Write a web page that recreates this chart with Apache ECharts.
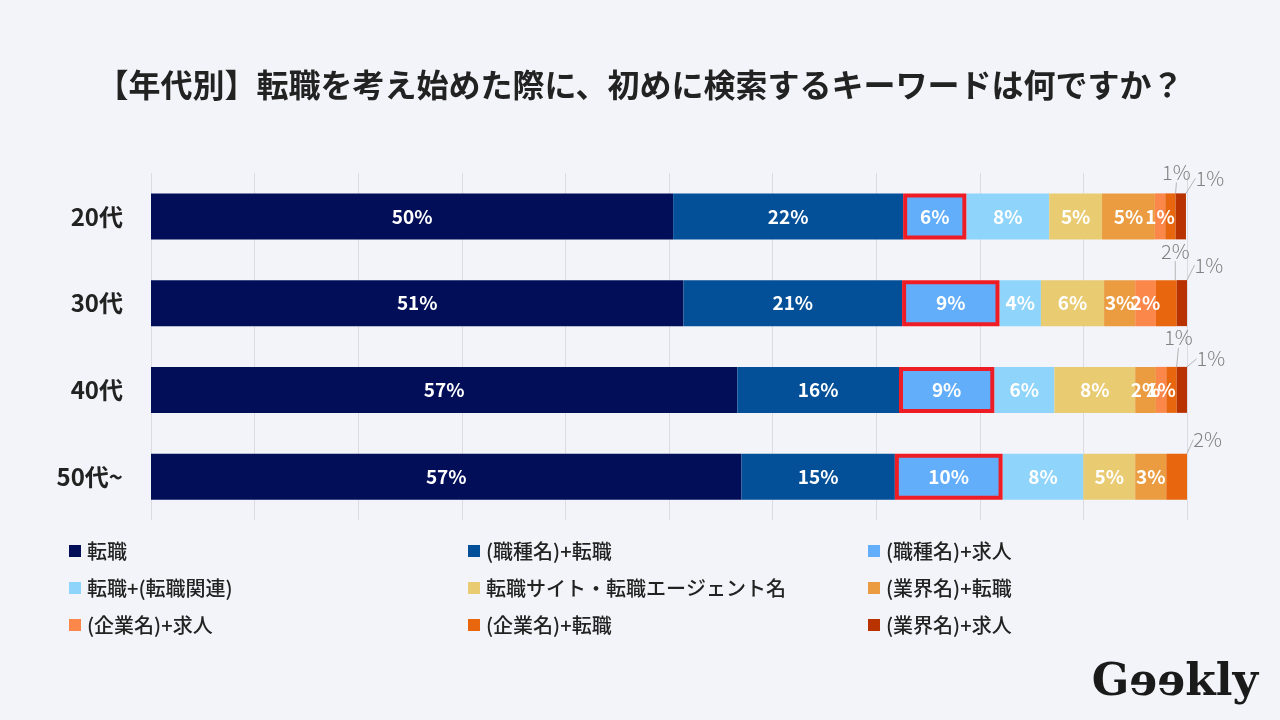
<!DOCTYPE html>
<html>
<head>
<meta charset="utf-8">
<script src="https://cdn.jsdelivr.net/npm/echarts@6/dist/echarts.min.js"></script>
<style>
html,body{margin:0;padding:0;background:#f3f4f9;}
#c{width:1280px;height:720px;}
</style>
</head>
<body>
<div id="c"></div>
<script>
const categories = ['20代', '30代', '40代', '50代~'];
const seriesNames = ['転職', '(職種名)+転職', '(職種名)+求人', '転職+(転職関連)', '転職サイト・転職エージェント名', '(業界名)+転職', '(企業名)+求人', '(企業名)+転職', '(業界名)+求人'];
const tenshoku          = [50.4, 51.4, 56.6, 57.0];
const shokushuTenshoku  = [22.2, 21.1, 15.6, 14.8];
const shokushuKyujin    = [6.1, 9.4, 9.2, 10.4];
const tenshokuKanren    = [8.0, 4.0, 5.8, 7.8];
const siteAgent         = [5.1, 6.1, 7.8, 5.0];
const gyokaiTenshoku    = [5.1, 3.0, 2.0, 3.0];
const kigyoKyujin       = [1.0, 2.0, 1.0, 0];
const kigyoTenshoku     = [1.0, 2.0, 1.0, 2.0];
const gyokaiKyujin      = [1.0, 1.0, 1.0, 0];
const seriesValues = [tenshoku, shokushuTenshoku, shokushuKyujin, tenshokuKanren, siteAgent, gyokaiTenshoku, kigyoKyujin, kigyoTenshoku, gyokaiKyujin];
const colors = ['#020f58', '#034f98', '#63aefa', '#8fd4fa', '#e9cb72', '#eb9b40', '#fc874a', '#e8660d', '#b83300'];

const FONT = '"Noto Sans CJK JP", "Noto Sans", sans-serif';
// outside label offsets (relative to segment center) for the last two series
const outsideOffset = {
  7: [[6, -44], [9, -52], [7, -52], [31, -37]],
  8: [[29, -38], [27, -38], [29, -31], [0, 0]]
};

const chart = echarts.init(document.getElementById('c'));

const series = seriesNames.map((name, i) => {
  const outside = i >= 7;
  const s = {
    name: name,
    type: 'bar',
    stack: 'total',
    barWidth: 46,
    data: seriesValues[i],
    itemStyle: { color: colors[i] },
    label: {
      show: true,
      position: 'inside',
      formatter: p => p.value > 0 ? Math.round(p.value) + '%' : '',
      color: outside ? '#808080' : '#ffffff',
      fontSize: outside ? 20 : 19,
      fontWeight: outside ? 300 : 'bold',
      fontFamily: FONT
    },
    emphasis: { disabled: true }
  };
  if (i === 2) {
    s.itemStyle = { color: colors[i], borderColor: '#ee1c25', borderWidth: 4 };
    s.z = 3;
  }
  if (outside) {
    s.labelLine = { show: true, length2: 0, lineStyle: { color: '#b5b5b5', width: 1 } };
    s.labelLayout = function (params) {
      const off = outsideOffset[params.seriesIndex][params.dataIndex];
      const r = params.rect;
      return {
        x: r.x + r.width / 2 + off[0],
        y: r.y + r.height / 2 + off[1],
        align: 'center',
        verticalAlign: 'middle'
      };
    };
  }
  return s;
});

function legendCol(left, names) {
  return {
    orient: 'vertical',
    left: left,
    top: 541,
    padding: 0,
    itemWidth: 12,
    itemHeight: 12,
    itemGap: 17,
    icon: 'rect',
    selectedMode: false,
    itemStyle: { borderWidth: 0 },
    data: names,
    textStyle: { color: '#222222', fontSize: 20, fontWeight: 500, lineHeight: 20, fontFamily: FONT, padding: [0, 0, 0, 1] }
  };
}

chart.setOption({
  backgroundColor: '#f3f4f9',
  animation: false,
  color: colors,
  title: {
    text: '【年代別】転職を考え始めた際に、初めに検索するキーワードは何ですか？',
    left: 'center',
    top: 69,
    padding: 0,
    textStyle: { color: '#222222', fontSize: 32, fontWeight: 'bold', fontFamily: FONT }
  },
  legend: [
    legendCol(69, [seriesNames[0], seriesNames[3], seriesNames[6]]),
    legendCol(468, [seriesNames[1], seriesNames[4], seriesNames[7]]),
    legendCol(868, [seriesNames[2], seriesNames[5], seriesNames[8]])
  ],
  grid: { left: 151, right: 93, top: 173, bottom: 200 },
  xAxis: {
    type: 'value',
    min: 0,
    max: 100,
    interval: 10,
    axisLabel: { show: false },
    axisLine: { show: false },
    axisTick: { show: false },
    splitLine: { show: true, lineStyle: { color: '#dcdde3', width: 1 } }
  },
  yAxis: {
    type: 'category',
    inverse: true,
    data: categories,
    axisLine: { show: false },
    axisTick: { show: false },
    axisLabel: { color: '#222222', fontSize: 24, fontWeight: 'bold', margin: 28, fontFamily: FONT }
  },
  graphic: [{
    type: 'text',
    right: 22,
    top: 662,
    style: {
      text: 'Gɘɘkly',
      font: 'bold 44px "DejaVu Serif", "Liberation Serif", serif',
      fill: '#1a1a1a'
    }
  }],
  series: series
});
</script>
</body>
</html>
